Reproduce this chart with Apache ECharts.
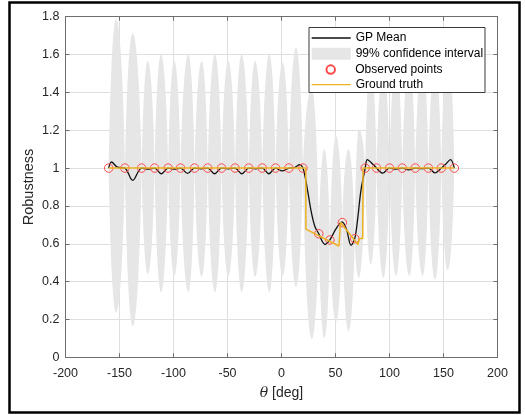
<!DOCTYPE html>
<html><head><meta charset="utf-8">
<script src="https://cdn.jsdelivr.net/npm/echarts@6/dist/echarts.min.js"></script>
<style>html,body{margin:0;padding:0;background:#fff}#c{width:525px;height:415px}</style>
</head><body><div id="c"></div>
<script>
// ---- tick labels ----
const xTicks = [-200, -150, -100, -50, 0, 50, 100, 150, 200];
const yTicks = [0, 0.2, 0.4, 0.6, 0.8, 1, 1.2, 1.4, 1.6, 1.8];

// ---- observed points ----
const obsX = [-160, -145, -129.5, -117.5, -105, -93.5, -80.5, -68.3, -55.5, -43, -30.3, -17.8, -5.5, 6.8, 19.8,
              34.5, 44.8, 56.3, 67.8, 77.5, 88, 100, 111.8, 123.8, 136, 148, 160];
const obsY = [1, 1, 1, 1, 1, 1, 1, 1, 1, 1, 1, 1, 1, 1, 1,
              0.653, 0.62, 0.712, 0.627, 1, 1, 1, 1, 1, 1, 1, 1];

// ---- GP mean ----
const meanX = [-160, -157.4, -152, -145, -137.8, -129.5, -123.5, -117.5, -111.3, -105, -99.2, -93.5, -87, -80.5,
               -74.4, -68.3, -62, -55.5, -49.2, -43, -36.7, -30.3, -24, -17.8, -11.7, -5.5, 0.6, 6.8, 12, 17, 19.8,
               22, 24.5, 27.5, 31, 34.5, 37.5, 40.3, 44.8, 50, 56, 60, 64.4, 67.8, 70.5, 73.5, 77.5, 79.4, 83, 88,
               93.7, 100, 105.9, 111.8, 117.8, 123.8, 130, 136, 142, 148, 152, 156.5, 160];
const meanY = [1.0, 1.032, 1.005, 1.0, 0.935, 1.0, 0.995, 1.0, 0.97, 1.0, 0.995, 1.0, 0.972, 1.0,
               0.996, 1.0, 0.97, 1.0, 0.996, 1.0, 0.97, 1.0, 0.996, 1.0, 0.97, 1.0, 0.985, 1.0, 1.003, 1.018, 1.0,
               0.95, 0.87, 0.77, 0.69, 0.653, 0.615, 0.596, 0.62, 0.675, 0.716, 0.68, 0.592, 0.627, 0.73, 0.88, 1.0, 1.045, 1.03, 1.0,
               0.973, 1.0, 0.995, 1.0, 0.99, 1.0, 0.997, 1.0, 0.975, 1.0, 1.02, 1.045, 1.0];

// ---- ground truth ----
const gtX = [-160, 22.5, 22.6, 53.2, 54.6, 70.8, 72.2, 75.2, 75.5, 160];
const gtY = [1, 1, 0.677, 0.588, 0.714, 0.596, 0.628, 0.628, 1, 1];

// ---- 99% confidence interval: one lobe between consecutive observed points ----
const ciMidX  = [-153.2, -137.8, -123.9, -111.6, -99.3, -86.3, -73.9, -61.6, -49.3, -36.9, -24.5, -11.3, 1.1, 13.4,
                 28, 39.6, 50.5, 61.9, 71.5, 82.6, 94.3, 106, 118.3, 130.7, 142.1, 153.9];
const ciUpper = [1.786, 1.713, 1.566, 1.60, 1.566, 1.60, 1.566, 1.60, 1.566, 1.60, 1.566, 1.60, 1.557, 1.637,
                 1.42, 1.10, 1.17, 1.10, 1.205, 1.56, 1.53, 1.56, 1.55, 1.57, 1.54, 1.62];
const ciLower = [0.235, 0.164, 0.438, 0.344, 0.43, 0.344, 0.425, 0.344, 0.43, 0.344, 0.425, 0.344, 0.43, 0.372,
                 0.097, 0.10, 0.19, 0.138, 0.42, 0.49, 0.42, 0.43, 0.43, 0.43, 0.41, 0.46];

const FONT = '"Liberation Sans", Arial, Helvetica, sans-serif';
const AX = '#6e6e6e';
const TXT = '#262626';

const ciData = ciMidX.map((m, i) => [obsX[i], obsY[i], m, ciUpper[i], ciLower[i], obsX[i + 1], obsY[i + 1]]);
// bezier control fractions for each half-lobe (between a quarter ellipse and a quarter sine)
const CA = 0.167, CB = 0.54, CC = 0.455;
function half(a, b) {
  const w = b[0] - a[0], h = b[1] - a[1];
  return [a[0] + CA * w, a[1] + CB * h, b[0] - CC * w, b[1], b[0], b[1]];
}
function halfBack(b, a) {
  const w = a[0] - b[0], h = b[1] - a[1];
  return [b[0] + CC * w, b[1], a[0] - CA * w, a[1] + CB * h, a[0], a[1]];
}
function lobe(params, api) {
  const p0 = api.coord([api.value(0), api.value(1)]);
  const pu = api.coord([api.value(2), api.value(3)]);
  const pl = api.coord([api.value(2), api.value(4)]);
  const p1 = api.coord([api.value(5), api.value(6)]);
  const d = ['M', p0[0], p0[1],
    'C'].concat(half(p0, pu), ['C'], halfBack(pu, p1), ['C'], half(p1, pl), ['C'], halfBack(pl, p0), ['Z']).join(' ');
  return { type: 'path', shape: { pathData: d }, style: { fill: '#e6e6e6' } };
}

const xMin = xTicks[0], xMax = xTicks[xTicks.length - 1], xInt = xTicks[1] - xTicks[0];
const yMin = yTicks[0], yMax = yTicks[yTicks.length - 1], yInt = 0.2;

const tickStyle = { show: true, inside: true, length: 4, lineStyle: { color: AX, width: 1 } };
const lineStyle = { show: true, onZero: false, lineStyle: { color: AX, width: 1 } };
const gridLine = { show: true, lineStyle: { color: '#dfdfdf', width: 1 } };

const legendBase = {
  orient: 'vertical', padding: 0, itemGap: 0, itemWidth: 39, left: 311.7,
  textStyle: { fontSize: 12, color: '#000', fontFamily: FONT }, selectedMode: false, z: 10
};
const rows = [37.5, 53.3, 69.1, 84.2];
const LINE_ICON = 'path://M0,0H40V1.3H0Z';

const option = {
  animation: false,
  backgroundColor: '#fff',
  grid: { left: 65.5, right: 27.5, top: 16.7, bottom: 57.7, containLabel: false },
  xAxis: [
    { type: 'value', min: xMin, max: xMax, interval: xInt, position: 'bottom',
      name: '{i|θ} [deg]', nameLocation: 'middle', nameGap: 29, nameMoveOverlap: false,
      nameTextStyle: { fontSize: 14, color: TXT, fontFamily: FONT, rich: { i: { fontStyle: 'italic', fontSize: 14, color: TXT, fontFamily: 'DejaVu Serif, serif' } } },
      axisLine: lineStyle, axisTick: tickStyle, splitLine: gridLine,
      axisLabel: { fontSize: 12.5, color: TXT, fontFamily: FONT, margin: 10, formatter: v => String(v) } },
    { type: 'value', min: xMin, max: xMax, interval: xInt, position: 'top',
      axisLine: lineStyle, axisTick: tickStyle, splitLine: { show: false }, axisLabel: { show: false } }
  ],
  yAxis: [
    { type: 'value', min: yMin, max: yMax, interval: yInt, position: 'left',
      name: 'Robustness', nameLocation: 'middle', nameGap: 29, nameMoveOverlap: false,
      nameTextStyle: { fontSize: 14.5, color: TXT, fontFamily: FONT },
      axisLine: lineStyle, axisTick: tickStyle, splitLine: gridLine,
      axisLabel: { fontSize: 12.5, color: TXT, fontFamily: FONT, margin: 6, formatter: v => String(Math.round(v * 10) / 10) } },
    { type: 'value', min: yMin, max: yMax, interval: yInt, position: 'right',
      axisLine: lineStyle, axisTick: tickStyle, splitLine: { show: false }, axisLabel: { show: false } }
  ],
  legend: [
    Object.assign({}, legendBase, { top: rows[0] - 5.5, itemHeight: 10, data: [{ name: 'GP Mean', icon: LINE_ICON }] }),
    Object.assign({}, legendBase, { top: rows[1] - 5.5, itemHeight: 12, data: [{ name: '99% confidence interval', icon: 'rect' }] }),
    Object.assign({}, legendBase, { top: rows[2] - 5.5, left: 311.7 + (39 - 8.5) / 2 - 1.5, itemHeight: 8.5, data: [{ name: 'Observed points', icon: 'circle' }] }),
    Object.assign({}, legendBase, { top: rows[3] - 5.5, itemHeight: 10, data: [{ name: 'Ground truth', icon: LINE_ICON }] })
  ],
  graphic: [
    { type: 'rect', z: 9, shape: { x: 309, y: 27.5, width: 176, height: 65 },
      style: { fill: '#fff', stroke: '#3a3a3a', lineWidth: 1 } },
    { type: 'rect', z: 20, shape: { x: 9.5, y: 2.5, width: 510, height: 410 },
      style: { fill: 'none', stroke: '#000', lineWidth: 2.5 } }
  ],
  series: [
    { name: '99% confidence interval', type: 'custom', renderItem: lobe, data: ciData,
      encode: { x: [0, 2, 5], y: [1, 3, 4, 6] }, itemStyle: { color: '#e6e6e6' }, z: 1, silent: true },
    { name: 'GP Mean', type: 'line', data: meanX.map((x, i) => [x, meanY[i]]), smooth: 0.35,
      symbol: 'none', lineStyle: { color: '#111', width: 1.3 }, itemStyle: { color: '#111' }, z: 3 },
    { name: 'Observed points', type: 'scatter', data: obsX.map((x, i) => [x, obsY[i]]),
      symbol: 'circle', symbolSize: 8.5,
      itemStyle: { color: 'rgba(255,255,255,0)', borderColor: '#ff4a4a', borderWidth: 1, opacity: 1 }, z: 4 },
    { name: 'Ground truth', type: 'line', data: gtX.map((x, i) => [x, gtY[i]]),
      symbol: 'none', lineStyle: { color: '#EDB120', width: 1.5 }, itemStyle: { color: '#EDB120' }, z: 5 }
  ]
};
const chart = echarts.init(document.getElementById('c'));
chart.setOption(option);
</script></body></html>
